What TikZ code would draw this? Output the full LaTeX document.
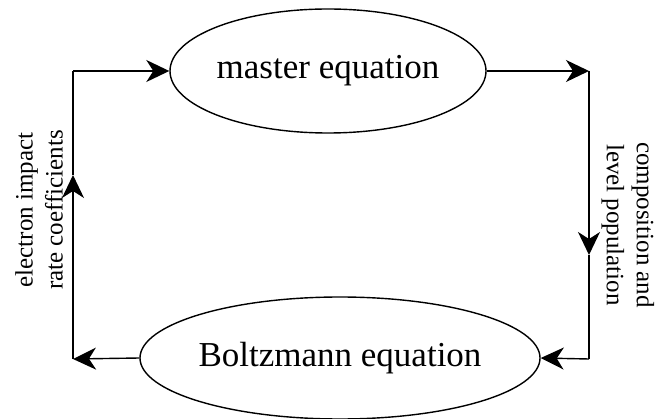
\documentclass[tikz,border=0pt]{standalone}
\usepackage{fontspec}
\setmainfont{Liberation Serif}
\usetikzlibrary{shapes.geometric,arrows.meta}
\begin{document}
\begin{tikzpicture}[x=1pt,y=-1pt,
  ell/.style={ellipse,draw,line width=1.4pt,inner sep=0pt,font=\fontsize{35}{42}\selectfont},
  lbl/.style={align=center,inner sep=0pt,font=\fontsize{25}{30}\selectfont},
  arr/.style={line width=1.4pt,-{Stealth[length=23pt,width=22pt,inset=7pt]}},
  ln/.style={line width=1.4pt}]
\useasboundingbox (0,0) rectangle (658,419);
\node[ell,minimum width=316pt,minimum height=124pt] (me) at (328,71) {master equation};
\node[ell,minimum width=322pt,minimum height=122pt] (be) at (340,358) {Boltzmann equation};
\coordinate (tl) at (73,71);
\coordinate (tr) at (589,71);
\coordinate (bl) at (73,359);
\coordinate (br) at (589,359);
\coordinate (lm) at (73,175);
\coordinate (rm) at (589,255);
\draw[arr] (tl) -- (me.west);
\draw[arr] (me.east) -- (tr);
\draw[arr] (tr) -- (rm);
\draw[ln] (rm) -- (br);
\draw[arr] (br) -- (be.east);
\draw[arr] (be.west) -- (bl);
\draw[arr] (bl) -- (lm);
\draw[ln] (lm) -- (tl);
\node[lbl,rotate=90] (ll) at (39,210) {electron impact\\rate coefficients};
\node[lbl,rotate=-90] (rl) at (628,225) {composition and\\level population};
\end{tikzpicture}
\end{document}
